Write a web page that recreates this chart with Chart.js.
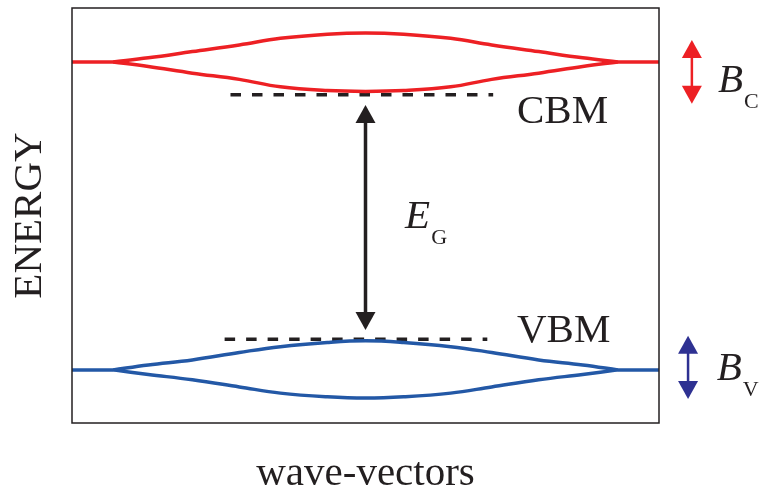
<!DOCTYPE html>
<html>
<head>
<meta charset="utf-8">
<title>Band structure</title>
<script src="https://cdn.jsdelivr.net/npm/chart.js@4"></script>
<style>
  html, body { margin: 0; padding: 0; background: #fff; }
  #wrap { width: 769px; height: 491px; }
</style>
</head>
<body>
<div id="wrap"><canvas id="bandChart" width="769" height="491"></canvas></div>
<script>
// band diagram - wave-vector (k) vs energy (arb. units)

const kCurve = [-0.86, -0.74, -0.59, -0.43, -0.29, -0.13, 0, 0.13, 0.29, 0.43, 0.59, 0.74, 0.86];
const cbUpper = [8.70, 8.80, 8.95, 9.11, 9.27, 9.37, 9.40, 9.37, 9.27, 9.11, 8.95, 8.80, 8.70];
const cbLower = [8.70, 8.59, 8.43, 8.28, 8.10, 8.01, 7.99, 8.01, 8.10, 8.28, 8.43, 8.59, 8.70];
const vbUpper = [1.28, 1.40, 1.52, 1.70, 1.84, 1.94, 1.98, 1.94, 1.84, 1.70, 1.52, 1.40, 1.28];
const vbLower = [1.28, 1.17, 1.04, 0.87, 0.72, 0.63, 0.60, 0.63, 0.72, 0.87, 1.04, 1.17, 1.28];

// flat parts of the bands near the zone edges
const kEdge = [-1, -0.86, 0.86, 1];
const cbLevel = 8.70;
const vbLevel = 1.28;

// dashed band-extremum markers
const cbmK = [-0.46, 0.435];
const cbmE = 7.91;
const vbmK = [-0.48, 0.415];
const vbmE = 2.02;

// arrows: gap, conduction band width, valence band width
const arrowK = [0, 1.112, 1.099];
const arrowTop = [7.66, 9.23, 2.10];
const arrowBottom = [2.24, 7.69, 0.58];

const RED = '#ed2024';
const BLUE = '#2358a6';
const NAVY = '#2e3192';
const INK = '#231f20';
const SERIF = "'Liberation Serif', 'Times New Roman', serif";

function pts(xs, ys) {
    return xs.map((x, i) => ({ x: x, y: ys[i] }));
}

function edgePts(level) {
    return [
        { x: kEdge[0], y: level }, { x: kEdge[1], y: level },
        { x: 0, y: null },
        { x: kEdge[2], y: level }, { x: kEdge[3], y: level }
    ];
}

function curveSet(data, color) {
    return {
        data: data,
        borderColor: color,
        borderWidth: 3.5,
        pointRadius: 0,
        tension: 0.4,
        fill: false
    };
}

function dashSet(xs, e) {
    return {
        data: pts(xs, [e, e]),
        borderColor: INK,
        borderWidth: 3.5,
        borderDash: [10.5, 11],
        pointRadius: 0,
        tension: 0,
        fill: false
    };
}

function drawArrow(ctx, x, yTop, yBot, color, shaft, headW, headL) {
    ctx.save();
    ctx.strokeStyle = color;
    ctx.fillStyle = color;
    ctx.lineWidth = shaft;
    ctx.setLineDash([]);
    ctx.beginPath();
    ctx.moveTo(x, yTop + headL - 1);
    ctx.lineTo(x, yBot - headL + 1);
    ctx.stroke();
    ctx.beginPath();
    ctx.moveTo(x, yTop);
    ctx.lineTo(x - headW / 2, yTop + headL);
    ctx.lineTo(x + headW / 2, yTop + headL);
    ctx.closePath();
    ctx.fill();
    ctx.beginPath();
    ctx.moveTo(x, yBot);
    ctx.lineTo(x - headW / 2, yBot - headL);
    ctx.lineTo(x + headW / 2, yBot - headL);
    ctx.closePath();
    ctx.fill();
    ctx.restore();
}

function subLabel(ctx, main, sub, x, y, color) {
    ctx.fillStyle = color;
    ctx.font = 'italic 41px ' + SERIF;
    ctx.fillText(main, x, y);
    const w = ctx.measureText(main).width;
    ctx.font = '22px ' + SERIF;
    ctx.fillText(sub, x + w + 1, y + 16);
}

const decorations = {
    id: 'decorations',
    afterDatasetsDraw(chart) {
        const ctx = chart.ctx;
        const a = chart.chartArea;
        const xs = chart.scales.x;
        const ys = chart.scales.y;

        // frame
        ctx.save();
        ctx.setLineDash([]);
        ctx.strokeStyle = INK;
        ctx.lineWidth = 1.5;
        ctx.strokeRect(a.left, a.top, a.right - a.left, a.bottom - a.top);

        // arrows
        const colors = [INK, RED, NAVY];
        const shafts = [3.5, 2.5, 2.5];
        arrowK.forEach((k, i) => {
            drawArrow(ctx, xs.getPixelForValue(k), ys.getPixelForValue(arrowTop[i]),
                ys.getPixelForValue(arrowBottom[i]), colors[i], shafts[i], 20, 18);
        });

        // labels
        ctx.textBaseline = 'alphabetic';
        ctx.textAlign = 'left';
        ctx.fillStyle = INK;
        ctx.font = '41px ' + SERIF;
        ctx.fillText('CBM', xs.getPixelForValue(0.516), ys.getPixelForValue(7.23));
        ctx.fillText('VBM', xs.getPixelForValue(0.516), ys.getPixelForValue(1.95));
        subLabel(ctx, 'E', 'G', xs.getPixelForValue(0.135), ys.getPixelForValue(4.70), INK);
        subLabel(ctx, 'B', 'C', xs.getPixelForValue(1.201), ys.getPixelForValue(7.98), INK);
        subLabel(ctx, 'B', 'V', xs.getPixelForValue(1.197), ys.getPixelForValue(1.03), INK);

        // axis titles
        ctx.font = '41px ' + SERIF;
        ctx.textAlign = 'center';
        ctx.fillText('wave-vectors', (a.left + a.right) / 2, 485);
        ctx.translate(41, (a.top + a.bottom) / 2);
        ctx.rotate(-Math.PI / 2);
        ctx.fillText('ENERGY', 0, 0);
        ctx.restore();
    }
};

const ctx = document.getElementById('bandChart').getContext('2d');
new Chart(ctx, {
    type: 'line',
    data: {
        datasets: [
            curveSet(pts(kCurve, cbUpper), RED),
            curveSet(pts(kCurve, cbLower), RED),
            curveSet(edgePts(cbLevel), RED),
            curveSet(pts(kCurve, vbUpper), BLUE),
            curveSet(pts(kCurve, vbLower), BLUE),
            curveSet(edgePts(vbLevel), BLUE),
            dashSet(cbmK, cbmE),
            dashSet(vbmK, vbmE)
        ]
    },
    options: {
        responsive: false,
        animation: false,
        devicePixelRatio: 1,
        layout: { padding: { left: 72, right: 110, top: 8, bottom: 68 } },
        plugins: {
            legend: { display: false },
            tooltip: { enabled: false }
        },
        scales: {
            x: { type: 'linear', min: -1, max: 1, display: false },
            y: { type: 'linear', min: 0, max: 10, display: false }
        }
    },
    plugins: [decorations]
});
</script>
</body>
</html>
